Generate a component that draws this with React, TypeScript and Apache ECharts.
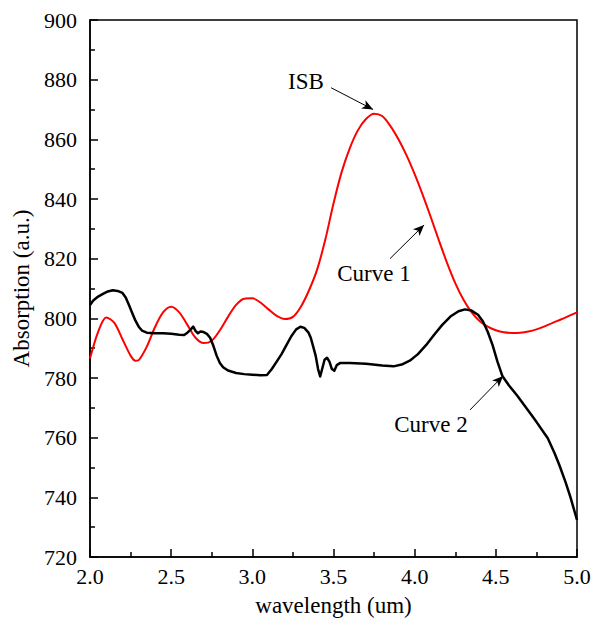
import React, { useEffect, useRef } from "react";
import * as echarts from "echarts";

const xTickLabels = ["2.0", "2.5", "3.0", "3.5", "4.0", "4.5", "5.0"];
const yTickLabels = ["720", "740", "760", "780", "800", "820", "840", "860", "880", "900"];

const curve1X = [2.0, 2.05, 2.1, 2.15, 2.2, 2.25, 2.28, 2.3, 2.35, 2.4, 2.45, 2.5, 2.55, 2.6, 2.65, 2.7, 2.75, 2.8, 2.85, 2.9, 2.95, 3.0, 3.05, 3.1, 3.15, 3.2, 3.25, 3.3, 3.35, 3.4, 3.45, 3.5, 3.55, 3.6, 3.65, 3.7, 3.75, 3.8, 3.85, 3.9, 3.95, 4.0, 4.05, 4.1, 4.15, 4.2, 4.25, 4.3, 4.35, 4.4, 4.45, 4.5, 4.55, 4.6, 4.65, 4.7, 4.75, 4.8, 4.85, 4.9, 4.95, 5.0];
const curve1Y = [786.5, 795.5, 800.3, 798.5, 793, 787.5, 785.8, 786, 790.5, 797, 802, 803.9, 802, 797.8, 793.5, 791.7, 792.5, 796, 800.5, 804.5, 806.6, 806.7, 805.3, 803, 800.8, 799.8, 800.5, 804, 809.5, 816.5, 826.5, 838.5, 849, 857, 863, 866.8, 868.6, 867.8, 864.5, 860, 854.6, 848.3, 841.3, 833.8, 826, 818.5, 811.8, 806.3, 802.1, 799.1, 797.2, 796, 795.3, 795.1, 795.2, 795.6, 796.3, 797.3, 798.5, 799.6, 800.8, 802];

const curve2X = [2.0, 2.02, 2.05, 2.08, 2.11, 2.14, 2.17, 2.2, 2.22, 2.24, 2.26, 2.28, 2.3, 2.32, 2.35, 2.4, 2.45, 2.5, 2.55, 2.58, 2.6, 2.62, 2.636, 2.65, 2.665, 2.68, 2.7, 2.72, 2.74, 2.76, 2.78, 2.8, 2.82, 2.85, 2.9, 2.95, 3.0, 3.05, 3.09, 3.12, 3.15, 3.18, 3.21, 3.24, 3.27, 3.296, 3.32, 3.345, 3.36, 3.375, 3.39, 3.405, 3.418, 3.43, 3.445, 3.46, 3.475, 3.49, 3.505, 3.52, 3.54, 3.6, 3.7, 3.8, 3.87, 3.92, 3.97, 4.02, 4.07, 4.12, 4.17, 4.22, 4.27, 4.31, 4.35, 4.39, 4.42, 4.45, 4.48, 4.51, 4.54, 4.58, 4.63, 4.68, 4.75, 4.82, 4.86, 4.89, 4.93, 4.96, 5.0];
const curve2Y = [804.5, 806, 807.3, 808.2, 809, 809.4, 809.2, 808.5, 807, 804.5, 801.8, 799.2, 797.2, 795.9, 795.2, 795, 795, 794.8, 794.5, 794.4, 795.2, 796.2, 797.2, 795.8, 795, 795.6, 795.4, 794.8, 793.5, 790.8, 787.5, 785, 783.6, 782.5, 781.7, 781.3, 781.1, 780.9, 781, 783, 785.5, 788, 791, 794, 796.3, 797.2, 796.8, 795.3, 793.5, 790.5, 787.5, 783, 780.5, 783, 786.1, 786.8, 785.5, 783, 782.4, 784.3, 785, 785, 784.8, 784.2, 783.9, 784.5, 785.8, 788, 791, 794.5, 797.8, 800.6, 802.4, 803, 802.6, 801.2, 799, 795.5, 791, 785.5, 780.7, 777.6, 774.2, 770.5, 765.3, 759.8, 755, 751, 745, 740, 732.4];

// annotation arrows: [tailX, tailY, headX, headY] in data coordinates
const isbArrow = [3.485, 877.3, 3.744, 870];
const curve1Arrow = [3.848, 820, 4.058, 831.3];
const curve2Arrow = [4.341, 769.3, 4.545, 780.7];

const annotationTexts = ["ISB", "Curve 1", "Curve 2"];

export default function App() {
  const ref = useRef<HTMLDivElement>(null);
  useEffect(() => {
    const chart = echarts.init(ref.current!, null, { renderer: "svg" });
    const font = "Liberation Serif";
    const arrow = (a: number[]) => [{ coord: [a[0], a[1]] }, { coord: [a[2], a[3]] }];
    const annText = (text: string, x: number, y: number) => ({
      type: "text",
      x,
      y,
      style: { text, fontSize: 23, fontFamily: font, fill: "#000", textAlign: "center", textVerticalAlign: "middle" },
    });
    chart.setOption({
      animation: false,
      backgroundColor: "#fff",
      textStyle: { fontFamily: font },
      grid: { left: 90, right: 23, top: 20, bottom: 62, show: true, borderColor: "#000", borderWidth: 1.5, backgroundColor: "transparent" },
      xAxis: {
        type: "value",
        min: 2,
        max: 5,
        interval: 0.5,
        axisLine: { onZero: false, lineStyle: { color: "#000", width: 1.5 } },
        axisTick: { inside: true, length: 8, lineStyle: { color: "#000", width: 1.5 } },
        minorTick: { show: true, splitNumber: 2, length: 5, lineStyle: { color: "#000", width: 1.5 } },
        splitLine: { show: false },
        axisLabel: {
          color: "#000",
          fontSize: 22,
          fontFamily: font,
          margin: 8,
          formatter: (v: number) => xTickLabels[Math.round((v - 2) / 0.5)] ?? v.toFixed(1),
        },
        name: "wavelength (um)",
        nameLocation: "middle",
        nameGap: 37,
        nameTextStyle: { color: "#000", fontSize: 23, fontFamily: font },
      },
      yAxis: {
        type: "value",
        min: 720,
        max: 900,
        interval: 20,
        axisLine: { onZero: false, lineStyle: { color: "#000", width: 1.5 } },
        axisTick: { inside: true, length: 8, lineStyle: { color: "#000", width: 1.5 } },
        minorTick: { show: true, splitNumber: 2, length: 5, lineStyle: { color: "#000", width: 1.5 } },
        splitLine: { show: false },
        axisLabel: {
          color: "#000",
          fontSize: 22,
          fontFamily: font,
          margin: 13,
          formatter: (v: number) => yTickLabels[Math.round((v - 720) / 20)] ?? String(v),
        },
        name: "Absorption (a.u.)",
        nameLocation: "middle",
        nameGap: 55,
        nameTextStyle: { color: "#000", fontSize: 23, fontFamily: font },
      },
      series: [
        {
          name: "Curve 1",
          type: "line",
          data: curve1X.map((x, i) => [x, curve1Y[i]]),
          smooth: 0.3,
          showSymbol: false,
          lineStyle: { color: "#ff0000", width: 2 },
          markLine: {
            silent: true,
            symbol: ["none", "arrow"],
            symbolSize: [7, 11],
            label: { show: false },
            lineStyle: { color: "#000", width: 1, type: "solid" },
            data: [arrow(isbArrow), arrow(curve1Arrow), arrow(curve2Arrow)],
          },
        },
        {
          name: "Curve 2",
          type: "line",
          data: curve2X.map((x, i) => [x, curve2Y[i]]),
          smooth: false,
          showSymbol: false,
          lineStyle: { color: "#000", width: 2.5, join: "round" },
        },
      ],
      graphic: [
        annText(annotationTexts[0], 306, 81),
        annText(annotationTexts[1], 374, 273),
        annText(annotationTexts[2], 431, 424),
      ],
    });
    return () => chart.dispose();
  }, []);
  return <div ref={ref} style={{ position: "absolute", left: 0, top: 0, width: 600, height: 622 }} />;
}
